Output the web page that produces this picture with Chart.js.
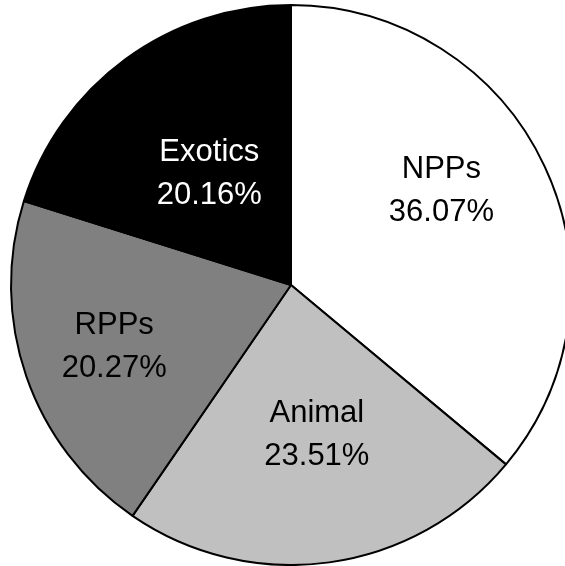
<!DOCTYPE html>
<html>
<head>
<meta charset="utf-8">
<script src="https://cdn.jsdelivr.net/npm/chart.js@4"></script>
<style>
  html, body { margin: 0; padding: 0; background: #fff; }
  #pie-chart { display: block; }
</style>
</head>
<body>
<canvas id="pie-chart" width="565" height="566"></canvas>
<script>
// data
const categories = ['NPPs', 'Animal', 'RPPs', 'Exotics'];
const shares = [36.07, 23.51, 20.27, 20.16];

// styling
const sliceColors = ['#ffffff', '#c0c0c0', '#808080', '#000000'];
const labelColors = ['#000000', '#000000', '#000000', '#ffffff'];
const labelRadius = [0.634, 0.54, 0.668, 0.493];   // fraction of outer radius
const labelNudge = [-7, -2, 0, 0];                 // degrees off the bisector

// Excel-ish two line labels inside each slice
const sliceLabels = {
    id: 'sliceLabels',
    afterDatasetsDraw(chart) {
        const ctx = chart.ctx;
        const arcs = chart.getDatasetMeta(0).data;
        ctx.save();
        ctx.font = '31px "Liberation Sans", Arial, sans-serif';
        ctx.textAlign = 'center';
        ctx.textBaseline = 'middle';
        arcs.forEach((arc, i) => {
            const p = arc.getProps(['x', 'y', 'startAngle', 'endAngle', 'outerRadius'], true);
            const mid = (p.startAngle + p.endAngle) / 2 + labelNudge[i] * Math.PI / 180;
            const r = p.outerRadius * labelRadius[i];
            const cx = p.x + Math.cos(mid) * r;
            const cy = p.y + Math.sin(mid) * r;
            ctx.fillStyle = labelColors[i];
            ctx.fillText(categories[i], cx, cy - 21);
            ctx.fillText(shares[i].toFixed(2) + '%', cx, cy + 22);
        });
        ctx.restore();
    }
};

const chart = new Chart(document.getElementById('pie-chart').getContext('2d'), {
    type: 'pie',
    data: {
        labels: categories,
        datasets: [{
            data: shares,
            backgroundColor: sliceColors,
            borderColor: '#000000',
            borderWidth: 2,
            clip: false
        }]
    },
    options: {
        responsive: false,
        animation: false,
        devicePixelRatio: 1,
        radius: 280,
        layout: {
            padding: { left: 17, right: 0, top: 4, bottom: 0 }
        },
        plugins: {
            legend: { display: false },
            tooltip: { enabled: false }
        }
    },
    plugins: [sliceLabels]
});
</script>
</body>
</html>
